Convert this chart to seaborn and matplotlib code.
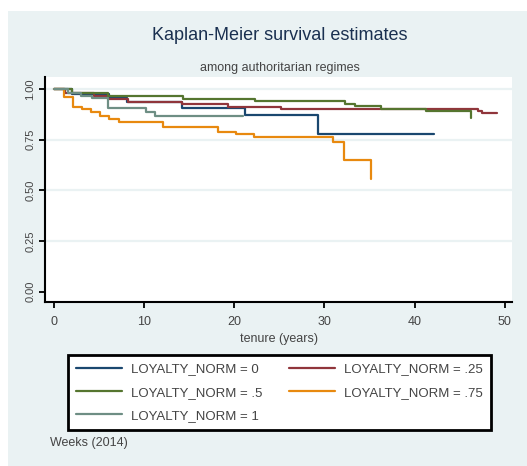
import numpy as np
import pandas as pd
import matplotlib
matplotlib.use("Agg")
import matplotlib.pyplot as plt
import seaborn as sns
from matplotlib.patches import Rectangle

# Kaplan-Meier step estimates by loyalty group (time in years, survival)
t_0 = [0, 2.0, 6.1, 8.1, 14.2, 21.2, 29.3, 42.2]
s_0 = [1.0, 0.975, 0.955, 0.935, 0.904, 0.873, 0.776, 0.776]

t_25 = [0, 1.2, 4.4, 6.0, 8.2, 14.2, 19.3, 25.2, 47.0, 47.5, 49.1]
s_25 = [1.0, 0.979, 0.965, 0.949, 0.937, 0.928, 0.913, 0.903, 0.89, 0.879, 0.879]

t_5 = [0, 2.0, 6.0, 14.3, 22.3, 32.3, 33.4, 36.3, 41.3, 46.3]
s_5 = [1.0, 0.979, 0.967, 0.952, 0.939, 0.928, 0.915, 0.903, 0.891, 0.857]

t_75 = [0, 1.1, 2.1, 3.1, 4.1, 5.1, 6.1, 7.2, 12.1, 18.2, 20.2, 22.2, 31.0, 32.2, 35.2]
s_75 = [1.0, 0.96, 0.912, 0.899, 0.886, 0.868, 0.85, 0.836, 0.813, 0.788, 0.776, 0.762, 0.736, 0.648, 0.556]

t_1 = [0, 1.6, 3.0, 4.2, 6.0, 10.2, 11.2, 21.0]
s_1 = [1.0, 0.979, 0.966, 0.955, 0.904, 0.887, 0.865, 0.865]

group_labels = ["LOYALTY_NORM = 0", "LOYALTY_NORM = .25", "LOYALTY_NORM = .5",
                "LOYALTY_NORM = .75", "LOYALTY_NORM = 1"]
group_times = [t_0, t_25, t_5, t_75, t_1]
group_surv = [s_0, s_25, s_5, s_75, s_1]
group_colors = ["#1a476f", "#90353b", "#55752f", "#e8890f", "#6e8e84"]

x_ticks = [0, 10, 20, 30, 40, 50]
y_ticks = [0.00, 0.25, 0.50, 0.75, 1.00]
y_ticklabels = ["0.00", "0.25", "0.50", "0.75", "1.00"]

frames = []
for lab, tt, ss in zip(group_labels, group_times, group_surv):
    frames.append(pd.DataFrame({"time": tt, "surv": ss, "group": lab}))
df = pd.concat(frames, ignore_index=True)

sns.set_style("white")
plt.rcParams["font.family"] = ["Liberation Sans", "DejaVu Sans"]

W, H = 527, 466
fig = plt.figure(figsize=(W / 100, H / 100), dpi=100, facecolor="white")

# light Stata-style outer panel
bg = "#eaf2f3"
fig.add_artist(Rectangle((8 / W, 0), 1 - 8 / W, 1 - 11 / H, transform=fig.transFigure,
                         facecolor=bg, edgecolor="none", zorder=-5))

ax = fig.add_axes([45 / W, 1 - 302 / H, (512 - 45) / W, (302 - 77) / H])
ax.set_facecolor("white")

palette = dict(zip(group_labels, group_colors))
sns.lineplot(data=df, x="time", y="surv", hue="group", palette=palette,
             hue_order=group_labels, estimator=None, sort=False,
             drawstyle="steps-post", linewidth=1.6, ax=ax, legend=False, zorder=3)

ax.set_xlim(-1.0, 50.8)
ax.set_ylim(-0.051, 1.059)
for yv in [0.25, 0.5, 0.75, 1.0]:
    ax.axhline(yv, color=bg, linewidth=1.6, zorder=1)

ax.set_xticks(x_ticks)
ax.set_xticklabels([str(v) for v in x_ticks], fontsize=9, color="#444444")
ax.set_yticks(y_ticks)
ax.set_yticklabels(y_ticklabels, fontsize=8, color="#444444", rotation=90, va="center")
ax.tick_params(axis="both", direction="out", length=4, width=1.3, color="black",
               bottom=True, left=True)
ax.tick_params(axis="x", pad=6)
ax.tick_params(axis="y", pad=3)

for side in ["top", "right"]:
    ax.spines[side].set_visible(False)
for side in ["left", "bottom"]:
    ax.spines[side].set_color("black")
    ax.spines[side].set_linewidth(1.5)

ax.set_xlabel("tenure (years)", fontsize=9, color="#444444", labelpad=4)
ax.set_ylabel("")

fig.text(280 / W, 1 - 36 / H, "Kaplan-Meier survival estimates", ha="center", va="center",
         fontsize=13, color="#1a3050")
fig.text(280 / W, 1 - 68 / H, "among authoritarian regimes", ha="center", va="center",
         fontsize=9, color="#444444")
fig.text(50 / W, 1 - 443 / H, "Weeks (2014)", ha="left", va="center",
         fontsize=9, color="#444444")

# legend filled column-wise so rows read 0/.25, .5/.75, 1
handles = {lab: plt.Line2D([], [], color=c, linewidth=1.6) for lab, c in zip(group_labels, group_colors)}
order = [group_labels[i] for i in [0, 2, 4, 1, 3]]
leg = fig.legend([handles[l] for l in order], order, ncol=2, loc="upper left",
                 bbox_to_anchor=(68 / W, 1 - 428 / H, (491 - 68) / W, (428 - 355) / H),
                 mode="expand", frameon=True, fancybox=False, fontsize=9.5,
                 handlelength=3.5, handletextpad=0.7, columnspacing=1.5,
                 labelspacing=0.85, borderpad=0.6, edgecolor="black",
                 labelcolor="#444444", borderaxespad=0.0)
leg.get_frame().set_linewidth(2.0)
leg.get_frame().set_facecolor("white")
leg.get_frame().set_alpha(1.0)

fig.savefig("out.png", dpi=100, facecolor="white")
